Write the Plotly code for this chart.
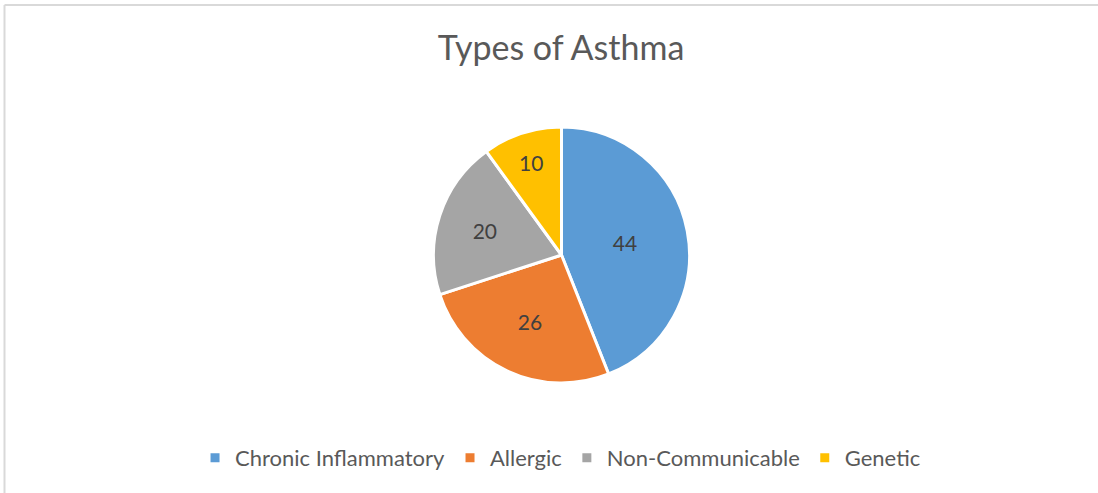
import plotly.graph_objects as go

categories = ["Chronic Inflammatory", "Allergic", "Non-Communicable", "Genetic"]
values = [44, 26, 20, 10]
colors = ["#5B9BD5", "#ED7D31", "#A5A5A5", "#FFC000"]

W, H = 1098, 493
cx, cy, r = 561.5, 255, 128

fig = go.Figure(go.Pie(
    labels=categories,
    values=values,
    sort=False,
    direction="clockwise",
    rotation=0,
    marker=dict(colors=colors, line=dict(color="white", width=3)),
    textinfo="value",
    textposition="inside",
    insidetextorientation="horizontal",
    textfont=dict(family="Lato", size=21, color="#404040"),
    hoverinfo="label+value",
    domain=dict(x=[(cx - r) / W, (cx + r) / W], y=[1 - (cy + r) / H, 1 - (cy - r) / H]),
))

fig.update_layout(
    width=W, height=H,
    margin=dict(l=0, r=0, t=0, b=0),
    paper_bgcolor="white",
    plot_bgcolor="white",
    title=dict(text="Types of Asthma", x=0.511, xanchor="center", y=1 - 48 / H, yanchor="middle",
               font=dict(family="Lato", size=34, color="#595959")),
    showlegend=True,
    legend=dict(orientation="h", x=0.5105, xanchor="center", y=1 - 458 / H, yanchor="middle",
                font=dict(family="Lato", size=22, color="#595959"),
                itemwidth=30, traceorder="normal"),
    shapes=[
        dict(type="line", xref="paper", yref="paper", x0=4.5 / W, x1=1.01, y0=1 - 5 / H, y1=1 - 5 / H,
             line=dict(color="#D9D9D9", width=2)),
        dict(type="line", xref="paper", yref="paper", x0=4.5 / W, x1=4.5 / W, y0=-0.01, y1=1 - 5 / H,
             line=dict(color="#D9D9D9", width=2)),
    ],
)

fig.write_html("out.html", config={"displayModeBar": False},
               post_script="document.body.style.margin='0';document.body.style.overflow='hidden';")
